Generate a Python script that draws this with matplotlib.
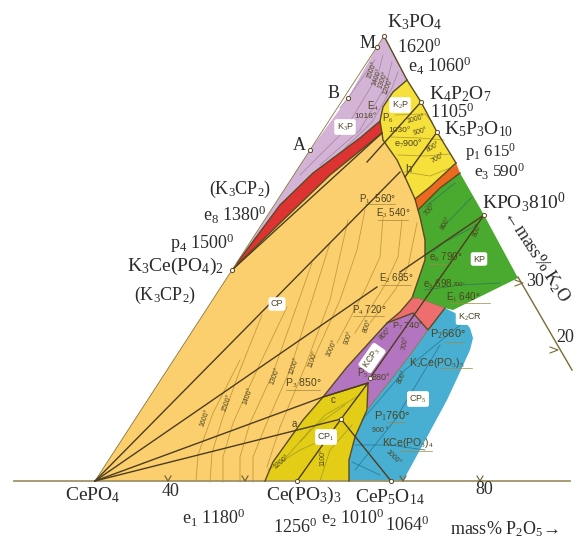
import matplotlib
matplotlib.use("Agg")
import matplotlib.pyplot as plt

plt.rcParams['font.family'] = ['Liberation Serif', 'DejaVu Sans']
plt.rcParams['mathtext.fontset'] = 'custom'
plt.rcParams['mathtext.rm'] = 'Liberation Serif'
plt.rcParams['mathtext.it'] = 'Liberation Serif'

# picture coordinates of the phase fields
champ_cp = [(95,481),(232,270),(280,223),(330,175),(382,133),(383,140),(397,160),(405,177),(415,199),(418,210),(420,217),
            (425,240),(425,260),(412,298),(400,312),(387,323),(347,367),(323,397),(303,420),(298,427),(273,462),(265,481)]
champ_k3p = [(384,36),(407,80),(393,92),(383,107),(380,121),(360,138),(313,173),(280,205),(237,263),(310,150),(348,98),(377,47)]
champ_rouge = [(380,121),(382,133),(330,175),(280,223),(232,270),(237,263),(280,205),(313,173),(360,138)]
champ_k2p = [(407,80),(421,102),(437,132),(456,163),(430,187),(415,199),(405,177),(397,160),(383,140),(382,133),(380,121),(383,107),(393,92)]
champ_orange = [(456,163),(460,173),(440,188),(418,210),(415,199),(430,187)]
champ_kp = [(460,173),(484,215),(518,278),(453,310),(445,308),(418,298),(412,298),(425,260),(425,240),(420,217),(418,210),(440,188)]
champ_k2cr = [(412,298),(418,298),(445,308),(428,330),(413,313),(387,323),(400,312)]
champ_kcp3 = [(387,323),(413,313),(428,330),(410,355),(397,372),(367,410),(368,383),(323,397),(347,367)]
champ_cp1 = [(323,397),(368,383),(367,410),(355,437),(349,460),(349,481),(265,481),(273,462),(298,427),(303,420)]
champ_cp5 = [(445,308),(455,313),(463,320),(470,328),(473,338),(470,350),(460,372),(447,400),(427,437),(403,481),(349,481),(349,460),(355,437),
             (367,410),(397,372),(410,355),(428,330)]

champs = [(champ_cp,"#fbcf6d"),(champ_k3p,"#d3b4d6"),(champ_rouge,"#dd3333"),(champ_k2p,"#f6e03c"),(champ_orange,"#ec6a1f"),
          (champ_kp,"#4aa92f"),(champ_k2cr,"#ee6e70"),(champ_kcp3,"#b374c0"),(champ_cp1,"#e4cd16"),(champ_cp5,"#48aed2")]

# limites entre champs
contours = [[(237,263),(280,205),(313,173),(360,138),(380,121)],
            [(232,270),(280,223),(330,175),(382,133)],
            [(407,80),(393,92),(383,107),(380,121),(382,133),(383,140),(397,160),(405,177),(415,199),(418,210),(420,217),(425,240),
             (425,260),(412,298),(400,312),(387,323),(347,367),(323,397),(303,420),(298,427),(273,462),(265,481)],
            [(384,36),(407,80),(421,102),(437,132),(456,163)],
            [(456,163),(430,187),(415,199)],[(460,173),(440,188),(418,210)],
            [(323,397),(368,383),(367,410),(355,437),(349,460),(349,481)],
            [(387,323),(413,313),(428,330),(445,308)]]
contours_fins = [[(95,481),(232,270)],[(367,410),(397,372),(410,355),(428,330)],[(412,298),(418,298),(445,308)],[(384,36),(310,150),(232,270)]]

# droites de liaison
liaisons = [[(95,481),(400,172)],[(95,481),(377,287)],[(400,272),(484,215)],[(95,481),(323,397),(368,383)],[(95,481),(341,419)],
            [(232,270),(382,133)],[(341,419),(297,481)],[(341,419),(391,481)],[(341,419),(368,383)],
            [(370,378),(484,215)],[(421,102),(367,162)],[(437,132),(405,177)]]

# isothermes
iso_cp = [[(196,481),(198,455),(213,413),(240,360)],
          [(210,482),(212,453),(222,420),(240,370),(262,315)],
          [(223,482),(223,457),(233,423),(257,370),(287,307)],
          [(240,482),(240,457),(250,423),(273,373),(312,263)],
          [(253,482),(253,457),(265,427),(290,370),(330,243)],
          [(267,467),(280,427),(305,367),(330,300),(348,220)],
          [(313,360),(340,300),(357,250),(365,210)],
          [(337,343),(365,290),(380,257),(383,217)],
          [(355,333),(385,285),(398,257),(402,220)],
          [(370,323),(395,290),(408,267),(417,223)]]
iso_k3p = [[(340,108),(348,98),(375,60)],[(300,175),(345,130),(378,75),(383,55)],[(320,165),(360,130),(386,85),(392,62)],
           [(345,148),(372,122),(392,88),(398,72)]]
iso_k2p = [[(395,115),(425,114),(432,122)],[(391,137),(420,138),(444,140)],[(398,155),(425,156),(450,154)],[(405,172),(430,176),(455,166)]]
iso_kp = [[(425,207),(455,183)],[(442,228),(472,197)],[(433,252),(443,243),(477,225)],[(425,290),(460,285),(500,283)]]
iso_bleu = [[(355,470),(395,420),(440,345)],[(355,445),(390,445),(425,450)],[(362,420),(405,370),(460,325)],[(352,462),(380,475)]]
iso_jaune = [[(268,470),(300,450),(338,433)],[(282,462),(310,430),(345,405)],[(320,481),(330,450),(352,425)],[(300,442),(325,415),(360,395)]]

# traits sous les étiquettes : (x1, x2, y)
traits = [(286,320,390),(353,384,316),(381,411,285),(378,408,220),(365,395,204),(445,464,342),(440,472,368),(387,405,422),(400,432,451),
          (430,448,264),(450,490,303)]

# petits textes de la figure : (x, y, texte, taille, rotation)
petits = [(373,106,"E$_4$",7,0),(365,116,"1018°",6,0),(388,118,"P$_6$",7,0),(399,130,"1030°",6,0),(408,144,"e$_7$900°",6.5,0),
          (416,119,"1000°",5,15),(420,132,"900°",5,15),(433,147,"800°",5,30),(438,158,"700°",5,30),(408,169,"h",8,0),
          (378,199,"P$_1$  560°",7,0),(393,213,"E$_3$ 540°",7,0),(430,210,"700°",5,50),(446,223,"800°",5,60),(478,230,"800°",5,70),
          (446,257,"e$_6$ 790°",7,0),(396,278,"E$_2$ 685°",7,0),(438,284,"e$_5$ 698",7,0),(459,284,"700°",4.5,0),(463,297,"E$_1$ 640°",7,0),
          (369,310,"P$_4$ 720°",7,0),(408,326,"P$_7$ 740°",6.5,0),(386,334,"800°",5,45),(368,326,"800°",5,70),(349,338,"900°",5,70),
          (332,348,"1000°",5,65),(313,359,"1100°",5,70),(294,366,"1200°",5,70),(275,376,"1300°",5,70),(248,396,"1400°",5,70),
          (227,403,"1500°",5,70),(205,418,"1600°",5,70),(448,334,"P$_2$660°",8,0),(405,343,"700°",5,80),(402,377,"800°",5,65),
          (303,383,"P$_3$ 850°",7.5,0),(381,378,"880°",6.5,0),(363,373,"P$_5$",7,0),(437,363,"K$_2$Ce(PO$_3$)$_5$",7.5,0),
          (392,416,"P$_1$760°",8,0),(380,431,"900 °",5,0),(408,443,"KCe(PO$_3$)$_4$",7.5,0),(393,457,"1000°",5,-45),
          (333,400,"c",7,0),(294,424,"a",7,0),(323,457,"1100°",5,90),(282,462,"1200°",5,40),
          (372,70,"1500°",5,70),(377,77,"1400°",5,70),(383,80,"1300°",5,70),(388,86,"1200°",5,70)]

# étiquettes de champ en boîte blanche : (x, y, texte, rotation)
boites = [(400,105,"K$_2$P",0),(345,127,"K$_3$P",0),(277,304,"CP",0),(479,259,"KP",0),(470,317,"K$_2$CR",0),(372,358,"KCP$_3$",55),
          (418,399,"CP$_5$",0),(326,437,"CP$_1$",0)]

# grands textes : (x, y, texte, taille, rotation)
grands = [(415,22,"K$_3$PO$_4$",14,0),(419,47,"1620$^0$",13,0),(440,66,"e$_4$ 1060$^0$",13,0),(460,94,"K$_4$P$_2$O$_7$",14,0),(452,112,"1105$^0$",13,0),
          (479,129,"K$_5$P$_3$O$_{10}$",14,0),(491,152,"p$_1$ 615$^0$",12,0),(500,172,"e$_3$ 590$^0$",12.5,0),(524,202,"KPO$_3$810$^0$",14,0),
          (537,256,"←mass% K$_2$O",13,-57),(368,43,"M",13,0),(334,93,"B",13,0),(299,145,"A",13,0),(240,189,"(K$_3$CP$_2$)",13,0),
          (235,215,"e$_8$ 1380$^0$",13,0),(202,243,"p$_4$ 1500$^0$",13,0),(175,266,"K$_3$Ce(PO$_4$)$_2$",14,0),(165,295,"(K$_3$CP$_2$)",13,0),
          (93,495,"CePO$_4$",14,0),(171,492,"40",13,0),(304,495,"Ce(PO$_3$)$_3$",14,0),(390,497,"CeP$_5$O$_{14}$",14,0),(484,490,"80",13,0),
          (214,518,"e$_1$ 1180$^0$",13,0),(295,527,"1256$^0$",13,0),(353,518,"e$_2$ 1010$^0$",13,0),(407,525,"1064$^0$",13,0),
          (504,529,"mass% P$_2$O$_5$→",13,0),(535,282,"30",13,0),(565,337,"20",13,0)]

# axes de composition
axe_bas = [(14,481),(570,481)]
axe_droit = [(518,277),(572,370)]
graduations_bas = [168,245,403,480]
graduations_droit = [(523,283),(558,350)]
points = [(384,36),(377,47),(348,98),(310,150),(232,270),(421,102),(437,132),(484,215),(297,481),(391,481),(341,419),(370,378)]

fig = plt.figure(figsize=(5.78,5.41), dpi=100)
ax = fig.add_axes([0,0,1,1])
ax.set_xlim(0,578)
ax.set_ylim(541,0)
ax.axis("off")

for poly,coul in champs:
    ax.fill(*zip(*poly), color=coul, lw=0, zorder=1)

for groupe,coul in [(iso_cp,"#c59a3e"),(iso_k3p,"#a98aa5"),(iso_k2p,"#b8a42a"),(iso_kp,"#2f7f50"),(iso_bleu,"#2c7f9a"),(iso_jaune,"#a8a020")]:
    for c in groupe:
        ax.plot(*zip(*c), color=coul, lw=0.6, zorder=2)

for c in contours:
    ax.plot(*zip(*c), color="#5a4a20", lw=1.0, zorder=3)
for c in contours_fins:
    ax.plot(*zip(*c), color="#8a7440", lw=0.6, zorder=3)
for l in liaisons:
    ax.plot(*zip(*l), color="#4c3d20", lw=1.0, zorder=4)

ax.plot(*zip(*axe_bas), color="#a09368", lw=1.3, zorder=2)
ax.plot(*zip(*axe_droit), color="#7a6a35", lw=1.0, zorder=2)
for x in graduations_bas:
    ax.plot([x-3,x,x+3],[476,481,476], color="#6a5a30", lw=0.8, zorder=5)
for x,y in graduations_droit:
    ax.plot([x-8,x,x-8],[y-3,y,y+3], color="#7a6a35", lw=0.8, zorder=5)
for x1,x2,y in traits:
    ax.plot([x1,x2],[y,y], color="#a08a40", lw=0.5, zorder=3)

ax.plot(*zip(*points), ls="none", marker="o", ms=3, mfc="white", mec="#5a4a20", mew=0.7, zorder=6)

for x,y,t,s,r in petits:
    ax.text(x,y,t, fontsize=s, rotation=r, ha="center", va="center", color="#4c4420",
            family=["Liberation Sans","DejaVu Sans"], zorder=7)
for x,y,t,r in boites:
    ax.text(x,y,t, fontsize=6.5, rotation=r, ha="center", va="center", color="#4c4420",
            family=["Liberation Sans","DejaVu Sans"], zorder=8,
            bbox=dict(boxstyle="round,pad=0.25", fc="white", ec="none"))
for x,y,t,s,r in grands:
    ax.text(x,y,t, fontsize=s, rotation=r, ha="center", va="center", color="#2b2b2b", zorder=9)

fig.savefig("out.png", dpi=100)
